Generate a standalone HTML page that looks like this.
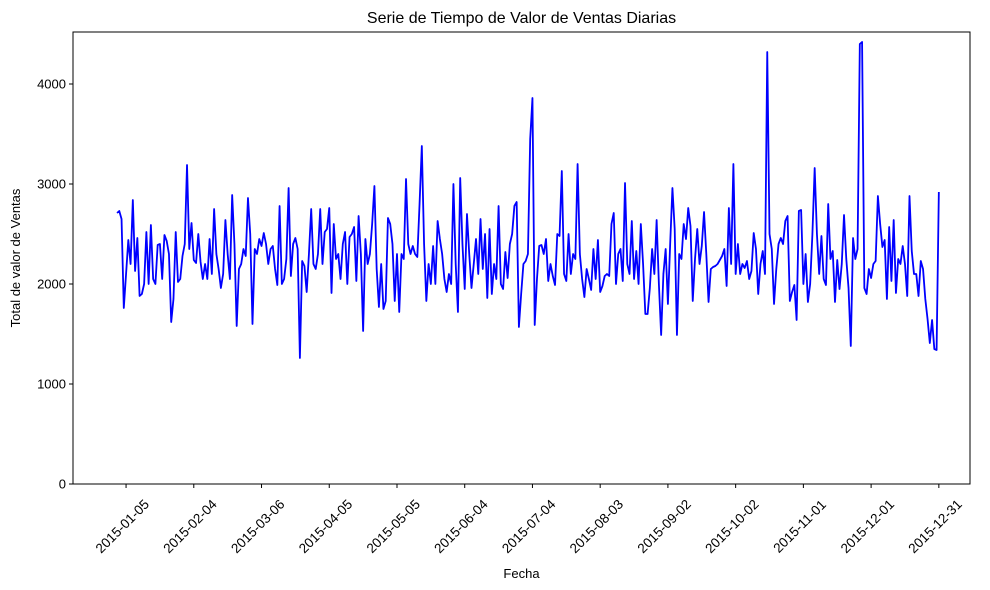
<!DOCTYPE html>
<html><head><meta charset="utf-8"><style>
body{margin:0;background:#fff;}
svg{display:block;font-family:"Liberation Sans","DejaVu Sans",sans-serif;}
</style></head><body>
<svg id="chart" width="990" height="590"></svg>
<script>
const seriesRows = [
[2710,2730,2650,1760,2100,2440,2200,2840,2130,2460,1880,1900,2000,2520,2000,2590,2050,2000,2390,2400,2050,2490,2430,2300,1620,1850,2520,2020,2050,2280,2400,3190,2350,2610,2240,2210,2500,2220,2050,2200],
[2050,2450,2100,2750,2300,2150,1960,2100,2640,2300,2050,2890,2400,1580,2150,2200,2350,2280,2860,2500,1600,2350,2300,2450,2380,2510,2400,2200,2350,2380,2150,1990,2780,2000,2050,2250,2960,2080,2400,2460],
[2350,1260,2230,2180,1920,2300,2750,2200,2150,2300,2750,2200,2520,2550,2760,1910,2600,2250,2300,2050,2400,2520,2000,2470,2500,2570,2030,2680,2300,1530,2450,2200,2300,2600,2980,2150,1770,2200,1750,1830],
[2660,2600,2400,1830,2300,1720,2300,2250,3050,2400,2300,2380,2300,2270,2800,3380,2400,1830,2200,2000,2380,2000,2630,2450,2300,2050,1920,2100,2000,3000,2200,1720,3060,2400,1950,2700,2300,1960,2200,2450],
[2100,2650,2150,2500,1860,2550,1900,2200,2050,2780,2000,1950,2320,2060,2400,2500,2780,2820,1570,1900,2200,2230,2300,3450,3860,1590,2050,2380,2390,2300,2450,2030,2200,2080,1990,2500,2480,3130,2100,2030],
[2500,2100,2300,2250,3200,2300,2050,1870,2150,2050,1940,2350,2050,2440,1920,1980,2080,2100,2080,2600,2710,2000,2300,2350,2030,3010,2200,2100,2630,2050,2330,2000,2600,2200,1700,1700,1960,2350,2100,2640],
[2000,1490,2100,2350,1800,2400,2960,2550,1490,2300,2250,2600,2450,2760,2580,1830,2250,2550,2200,2380,2720,2300,1820,2150,2170,2180,2200,2240,2280,2350,1980,2760,2200,3200,2100,2400,2100,2200,2160,2230],
[2050,2130,2510,2350,1900,2200,2330,2100,4320,2500,2350,1800,2150,2400,2460,2400,2630,2680,1830,1920,1990,1640,2730,2740,2000,2300,1820,2000,2500,3160,2500,2100,2480,2050,1990,2800,2250,2330,1820,2240],
[1950,2200,2690,2250,1960,1380,2460,2250,2350,4400,4420,1960,1900,2150,2060,2200,2230,2880,2600,2370,2440,1850,2570,2030,2640,1910,2250,2200,2380,2200,1880,2880,2330,2100,2100,1880,2230,2150,1850,1650,1410,1640,1350,1340,2920]
];
const salesValues = [].concat(...seriesRows);
const startDay = 0; // day index 0 = 2015-01-01
const xTickLabels = ["2015-01-05","2015-02-04","2015-03-06","2015-04-05","2015-05-05","2015-06-04","2015-07-04","2015-08-03","2015-09-02","2015-10-02","2015-11-01","2015-12-01","2015-12-31"];
const xTickDays = [4,34,64,94,124,154,184,214,244,274,304,334,364];
const yTickValues = [0,1000,2000,3000,4000];

const L=73,R=970,T=32,B=484;
const dMin=-19.5,dMax=377.8,yMax=4520;
const xs=d=>L+(d-dMin)/(dMax-dMin)*(R-L);
const ys=v=>B-v/yMax*(B-T);
const NS="http://www.w3.org/2000/svg";
const svg=document.getElementById('chart');
function mk(tag,attrs,parent){const e=document.createElementNS(NS,tag);for(const k in attrs)e.setAttribute(k,attrs[k]);(parent||svg).appendChild(e);return e;}

const title=mk('text',{x:(L+R)/2,y:23,'text-anchor':'middle','font-size':16});
title.textContent="Serie de Tiempo de Valor de Ventas Diarias";



const line=mk('path',{d:salesValues.map((v,i)=>(i?'L':'M')+xs(startDay+i).toFixed(2)+','+ys(v).toFixed(2)).join(''),fill:'none',stroke:'#0000ff','stroke-width':1.8,'stroke-linejoin':'round'});



const frame=mk('rect',{x:L,y:T,width:R-L,height:B-T,fill:'none',stroke:'#000','stroke-width':1});



yTickValues.forEach(v=>{
  const y=ys(v);
  mk('line',{x1:L-4,x2:L,y1:y,y2:y,stroke:'#000'});
  const t=mk('text',{x:L-7,y:y+4.5,'text-anchor':'end','font-size':13});
  t.textContent=v;
  
  
});
xTickDays.forEach((d,i)=>{
  const x=xs(d);
  mk('line',{x1:x,x2:x,y1:B,y2:B+4,stroke:'#000'});
  const cx=x-3, cy=527;
  const t=mk('text',{x:cx,y:cy,'text-anchor':'middle','dominant-baseline':'middle','font-size':13.5,transform:`rotate(-45 ${cx} ${cy})`});
  t.textContent=xTickLabels[i];
  
  
});
const xt=mk('text',{x:(L+R)/2,y:578,'text-anchor':'middle','font-size':13});
xt.textContent="Fecha";


const yt=mk('text',{x:20,y:(T+B)/2,'text-anchor':'middle','font-size':13,transform:`rotate(-90 20 ${(T+B)/2})`});
yt.textContent="Total de valor de Ventas";


</script>
</body></html>
